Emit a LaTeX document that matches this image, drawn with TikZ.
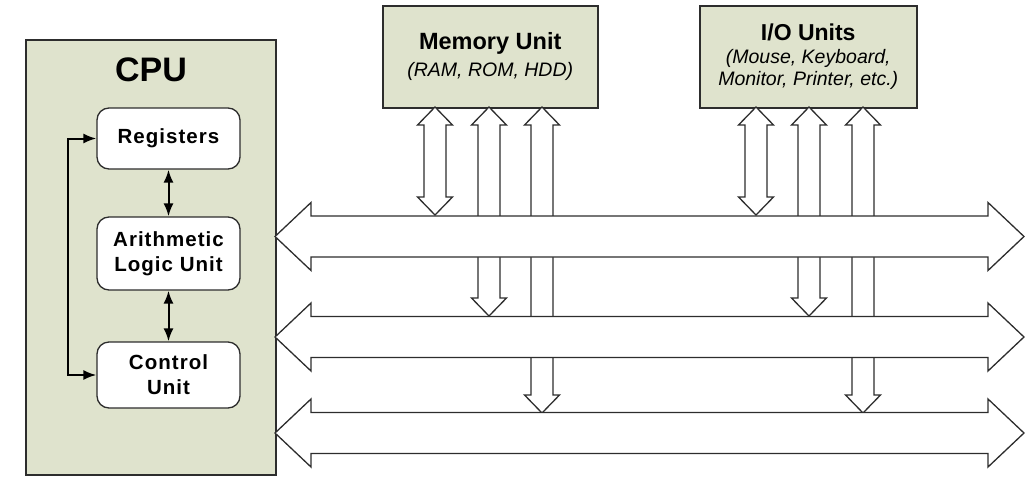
\documentclass[tikz,border=0pt]{standalone}
\usepackage{fontspec}
\setmainfont{Liberation Sans}
\usetikzlibrary{arrows.meta}
\definecolor{unitfill}{RGB}{223,227,205}
\definecolor{linegray}{RGB}{45,45,45}
\tikzset{
  unitbox/.style={draw=linegray, line width=1.5pt, fill=unitfill, align=center, inner sep=0pt, anchor=north west},
  cpupart/.style={draw=linegray, line width=1.3pt, fill=white, rounded corners=12pt,
    minimum width=143pt, align=center, inner sep=0pt,
    font=\fontsize{20.5}{25}\selectfont\bfseries\addfontfeature{LetterSpace=5}},
  busarrow/.style={draw=linegray, line width=1.3pt, fill=white, line join=miter},
  ctrl/.style={draw=black, line width=2pt, {Latex[length=13pt,width=10pt]}-{Latex[length=13pt,width=10pt]}}
}
% block arrow from a unit down to a bus: #1 = x centre, #2 = y of lower tip
\newcommand{\linkarrow}[2]{%
  \draw[busarrow] (#1,107) -- (#1+17.5,125) -- (#1+11,125) -- (#1+11,#2-18) -- (#1+17.5,#2-18)
    -- (#1,#2) -- (#1-17.5,#2-18) -- (#1-11,#2-18) -- (#1-11,125) -- (#1-17.5,125) -- cycle;}
\begin{document}
\begin{tikzpicture}[x=1pt, y=-1pt]
 \useasboundingbox (0,0) rectangle (1028,498);
 % CPU
 \draw[draw=linegray, line width=2pt, fill=unitfill] (26,40) rectangle (276,475);
 \node[font=\fontsize{34}{38}\selectfont\bfseries] (cpu) at (151,70) {CPU};
 \node[cpupart, minimum height=61pt] (reg) at (168.5,138.5) {Registers};
 \node[cpupart, minimum height=73pt] (alu) at (168.5,253.5) {Arithmetic\\Logic Unit};
 \node[cpupart, minimum height=66pt] (cu) at (168.5,375) {Control\\Unit};
 \draw[ctrl] (reg.south) -- (alu.north);
 \draw[ctrl] (alu.south) -- (cu.north);
 \draw[ctrl] (reg.west) -- ++(-28,0) |- (cu.west);
 % memory and I/O
 \node[unitbox, minimum width=215pt, minimum height=102pt, font=\fontsize{19.5}{27}\selectfont] (mem) at (382,5)
  {{\fontsize{23.5}{27}\selectfont\bfseries Memory Unit}\\
   \itshape (RAM, ROM, HDD)};
 \node[unitbox, minimum width=217pt, minimum height=102pt, font=\fontsize{19.5}{22.5}\selectfont] (io) at (699,5)
  {{\fontsize{23}{22.5}\selectfont\bfseries I/O Units}\\
   \itshape (Mouse, Keyboard,\\
   \itshape Monitor, Printer, etc.)};
 \foreach \x/\y in {435/215, 489/316, 542/413, 756/215, 809/316, 863/413}
  \linkarrow{\x}{\y};
 % buses
 \foreach \y in {236.5, 337, 433}
  \draw[busarrow] (275,\y) -- (311,\y-34) -- (311,\y-20.5) -- (988,\y-20.5) -- (988,\y-34)
   -- (1024,\y) -- (988,\y+34) -- (988,\y+20.5) -- (311,\y+20.5) -- (311,\y+34) -- cycle;
\end{tikzpicture}
\end{document}
